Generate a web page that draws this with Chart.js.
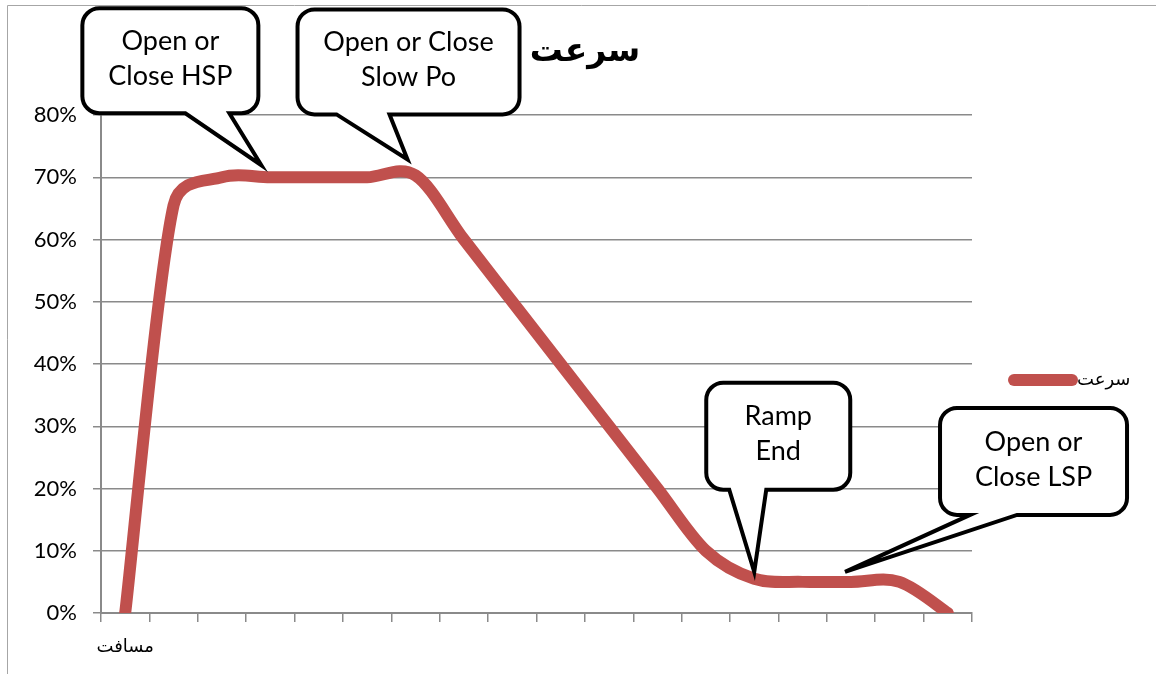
<!DOCTYPE html>
<html>
<head>
<meta charset="UTF-8" />
<title>سرعت</title>
<script src="https://cdn.jsdelivr.net/npm/chart.js"></script>
<style>
  html, body { margin: 0; padding: 0; background: #fff; }
  #speedChart { display: block; }
</style>
</head>
<body>
<canvas id="speedChart" width="1156" height="674"></canvas>
<script>
  // data
  const titleText = 'سرعت';
  const seriesName = 'سرعت';
  const categories = ['مسافت', '', '', '', '', '', '', '', '', '', '', '', '', '', '', '', '', ''];
  const speed = [0, 65.5, 70, 70, 70, 70, 70.3, 60, 50, 40, 30, 20, 10, 5.5, 5, 5, 5, 0];
  const yMin = 0;
  const yMax = 80;
  const yStep = 10;

  // callouts: point index they point at + their text
  const calloutIndex = [3, 6, 13, 15];
  const calloutText = [
    ['Open or', 'Close HSP'],
    ['Open or Close', 'Slow Po'],
    ['Ramp', 'End'],
    ['Open or', 'Close LSP']
  ];
  // bubble layout relative to its point (tip offset, box offset from tip, size, tail base)
  const calloutLayout = [
    { dx: -9, dy: -12, bx: -179, by: -157, w: 176, h: 105, t1: 103, t2: 147 },
    { dx: -8, dy: -16, bx: -110, by: -150, w: 222, h: 105, t1: 39, t2: 92 },
    { dx: 0, dy: -7, bx: -48, by: -189, w: 144, h: 107, t1: 23, t2: 60 },
    { dx: -6, dy: -10, bx: 95, by: -164, w: 187, h: 107, t1: 30, t2: 77 }
  ];

  const lineColor = '#C0504D';
  const gridColor = '#8a8a8a';

  function bubblePath(ctx, x, y, w, h, r, t1, t2, tipX, tipY) {
    ctx.beginPath();
    ctx.moveTo(x + r, y);
    ctx.arcTo(x + w, y, x + w, y + h, r);
    ctx.arcTo(x + w, y + h, x, y + h, r);
    ctx.lineTo(x + t2, y + h);
    ctx.lineTo(tipX, tipY);
    ctx.lineTo(x + t1, y + h);
    ctx.arcTo(x, y + h, x, y, r);
    ctx.arcTo(x, y, x + w, y, r);
    ctx.closePath();
  }

  // office-like smoothing: tangent (next - prev) / 6, capped at half the segment
  const officeSmooth = {
    id: 'officeSmooth',
    beforeDatasetsDraw(chart) {
      chart.getSortedVisibleDatasetMetas().forEach(meta => {
        meta.dataset.updateControlPoints(chart.chartArea, 'x');
        const pts = meta.data;
        pts.forEach((p, i) => {
          const prev = pts[i - 1] || p;
          const next = pts[i + 1] || p;
          const tx = next.x - prev.x, ty = next.y - prev.y;
          const d02 = Math.hypot(tx, ty) || 1;
          const d01 = Math.hypot(p.x - prev.x, p.y - prev.y);
          const d12 = Math.hypot(next.x - p.x, next.y - p.y);
          const fa = Math.min(1 / 6, d01 / (2 * d02));
          const fb = Math.min(1 / 6, d12 / (2 * d02));
          p.cp1x = p.x - fa * tx;
          p.cp1y = p.y - fa * ty;
          p.cp2x = p.x + fb * tx;
          p.cp2y = p.y + fb * ty;
        });
      });
    }
  };

  const decorPlugin = {
    id: 'decor',
    beforeDraw(chart) {
      const ctx = chart.ctx;
      ctx.save();
      ctx.strokeStyle = '#a6a6a6';
      ctx.lineWidth = 1;
      ctx.beginPath();
      ctx.moveTo(7.5, chart.height);
      ctx.lineTo(7.5, 5.5);
      ctx.lineTo(chart.width, 5.5);
      ctx.stroke();
      ctx.restore();
    },
    afterDraw(chart) {
      const ctx = chart.ctx;
      const area = chart.chartArea;
      ctx.save();

      // title
      ctx.fillStyle = '#000';
      ctx.font = 'bold 33px "DejaVu Sans"';
      ctx.textAlign = 'center';
      ctx.textBaseline = 'middle';
      ctx.fillText(titleText, chart.width / 2 + 7, 52);

      // legend
      const ly = (area.top + area.bottom) / 2 + 16;
      const lx = area.right + 42;
      ctx.strokeStyle = lineColor;
      ctx.lineWidth = 12;
      ctx.lineCap = 'round';
      ctx.beginPath();
      ctx.moveTo(lx, ly);
      ctx.lineTo(lx + 58, ly);
      ctx.stroke();
      ctx.font = '18px "DejaVu Sans"';
      ctx.textAlign = 'left';
      ctx.fillText(seriesName, lx + 63, ly);

      // callouts
      const meta = chart.getDatasetMeta(0);
      calloutIndex.forEach((idx, i) => {
        const pt = meta.data[idx];
        const L = calloutLayout[i];
        const tipX = pt.x + L.dx;
        const tipY = pt.y + L.dy;
        const x = tipX + L.bx;
        const y = tipY + L.by;
        bubblePath(ctx, x, y, L.w, L.h, 17, L.t1, L.t2, tipX, tipY);
        ctx.fillStyle = '#fff';
        ctx.fill();
        ctx.lineWidth = 4;
        ctx.lineJoin = 'miter';
        ctx.miterLimit = 5;
        ctx.strokeStyle = '#000';
        ctx.stroke();
        ctx.fillStyle = '#000';
        ctx.font = '27px Lato';
        ctx.textAlign = 'center';
        const lines = calloutText[i];
        lines.forEach((s, k) => {
          ctx.fillText(s, x + L.w / 2, y + L.h / 2 - 2 + (k - (lines.length - 1) / 2) * 35);
        });
      });
      ctx.restore();
    }
  };

  new Chart(document.getElementById('speedChart'), {
    type: 'line',
    data: {
      labels: categories,
      datasets: [{
        label: seriesName,
        data: speed,
        borderColor: lineColor,
        backgroundColor: lineColor,
        borderWidth: 12,
        borderCapStyle: 'round',
        borderJoinStyle: 'round',
        pointRadius: 0,
        tension: 0.4,
        capBezierPoints: false,
        fill: false
      }]
    },
    options: {
      responsive: false,
      animation: false,
      layout: { padding: { top: 115, right: 184, left: 0, bottom: 0 } },
      plugins: {
        legend: { display: false },
        title: { display: false },
        tooltip: { enabled: false }
      },
      scales: {
        x: {
          offset: true,
          grid: {
            offset: true,
            drawOnChartArea: false,
            drawTicks: true,
            tickLength: 9,
            color: gridColor,
            lineWidth: 1.5
          },
          border: { color: gridColor, width: 2 },
          ticks: {
            autoSkip: false,
            maxRotation: 0,
            padding: 15,
            color: '#000',
            font: { family: 'DejaVu Sans', size: 18 }
          },
          afterFit(scale) { scale.height = 61; }
        },
        y: {
          min: yMin,
          max: yMax,
          grid: {
            color: gridColor,
            lineWidth: 1.5,
            tickLength: 8
          },
          border: { color: gridColor, width: 2 },
          ticks: {
            stepSize: yStep,
            padding: 16,
            color: '#000',
            font: { family: 'Lato', size: 22 },
            callback: v => v + '%'
          },
          afterFit(scale) { scale.width = 101; }
        }
      }
    },
    plugins: [officeSmooth, decorPlugin]
  });
</script>
</body>
</html>
